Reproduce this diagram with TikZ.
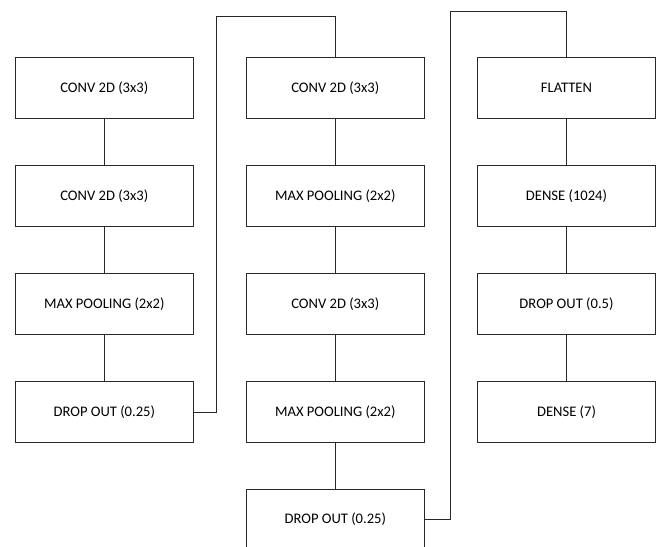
\documentclass[tikz,border=0pt]{standalone}
\usepackage{fontspec}
\setmainfont{Carlito}
\usepackage{tikz}
\usetikzlibrary{positioning}
\definecolor{LineGray}{RGB}{40,40,40}

\begin{document}
\begin{tikzpicture}[x=1pt,y=-1pt,
  layer/.style={draw=LineGray,line width=0.9pt,minimum width=178pt,minimum height=61pt,inner sep=0pt,font=\fontsize{14.6}{17}\selectfont},
  link/.style={draw=LineGray,line width=0.9pt}]
  \useasboundingbox (0,0) rectangle (658,546);
  \clip (0,0) rectangle (658,546);
  % first column
  \node[layer] (convA) at (104.3,88.3)  {CONV 2D (3x3)};
  \node[layer] (convB) at (104.3,196.2) {CONV 2D (3x3)};
  \node[layer] (poolA) at (104.3,303.8) {MAX POOLING (2x2)};
  \node[layer] (dropA) at (104.3,412)   {DROP OUT (0.25)};
  % second column
  \node[layer] (convC) at (335.3,88.3)  {CONV 2D (3x3)};
  \node[layer] (poolB) at (335.3,196.2) {MAX POOLING (2x2)};
  \node[layer] (convD) at (335.3,303.8) {CONV 2D (3x3)};
  \node[layer] (poolC) at (335.3,412)   {MAX POOLING (2x2)};
  \node[layer] (dropB) at (335.3,519.5) {DROP OUT (0.25)};
  % third column
  \node[layer] (flat)   at (566.5,88.3)  {FLATTEN};
  \node[layer] (denseA) at (566.5,196.2) {DENSE (1024)};
  \node[layer] (dropC)  at (566.5,303.8) {DROP OUT (0.5)};
  \node[layer] (denseB) at (566.5,412)   {DENSE (7)};
  \coordinate (bendA) at (216.7,16.7);
  \coordinate (bendB) at (450,11.7);
  \draw[link] (convA) -- (convB) -- (poolA) -- (dropA);
  \draw[link] (convC) -- (poolB) -- (convD) -- (poolC) -- (dropB);
  \draw[link] (flat) -- (denseA) -- (dropC) -- (denseB);
  \draw[link] (dropA.east) -| (bendA) -| (convC.north);
  \draw[link] (dropB.east) -| (bendB) -| (flat.north);
\end{tikzpicture}
\end{document}
